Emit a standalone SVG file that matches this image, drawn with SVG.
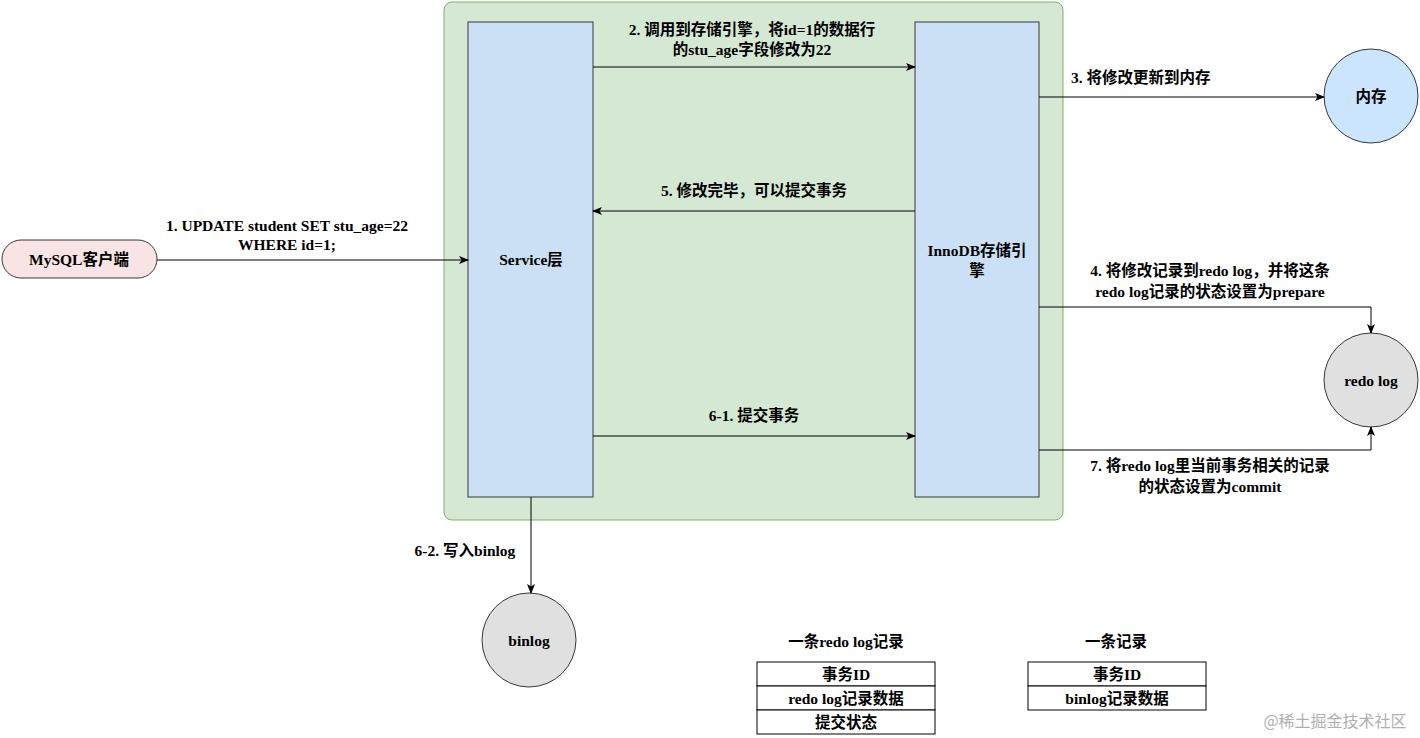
<svg xmlns="http://www.w3.org/2000/svg" width="1420" height="738" viewBox="0 0 1420 738">
<defs>
<marker id="a" markerWidth="10" markerHeight="8" refX="9" refY="4" orient="auto" markerUnits="userSpaceOnUse"><path d="M0,0 L10,4 L0,8 L2.5,4 Z" fill="#000"/></marker>
<style>
text{font-family:"Liberation Serif","Noto Sans CJK SC",serif;font-weight:bold;font-size:15.5px;fill:#000;text-anchor:middle;dominant-baseline:central}
.c{stroke:#000;stroke-width:1;fill:none;marker-end:url(#a)}
.box{fill:#cce0f5;stroke:#36393d}
.circ{stroke:#36393d;stroke-width:1}
.tb{fill:#fff;stroke:#000}
</style>
</defs>
<rect width="1420" height="738" fill="#fff"/>
<g id="container"><rect x="444" y="2" width="619" height="518" rx="8" fill="#d5e8d4" stroke="#82b366"/></g>
<g id="service"><rect class="box" x="468" y="22" width="125" height="475"/><text x="531" y="259">Service层</text></g>
<g id="innodb"><rect class="box" x="915" y="22" width="124" height="475"/><text x="977" y="250">InnoDB存储引</text><text x="977" y="270">擎</text></g>
<g id="client"><rect x="2" y="240" width="155" height="38" rx="19" fill="#f8e4e4" stroke="#36393d"/><text x="79" y="259">MySQL客户端</text></g>
<g id="mem"><circle class="circ" cx="1371" cy="96" r="47" fill="#cce5ff"/><text x="1371" y="96">内存</text></g>
<g id="redolog"><circle class="circ" cx="1371" cy="380" r="47" fill="#e0e0e0"/><text x="1371" y="380">redo log</text></g>
<g id="binlog"><circle class="circ" cx="529" cy="640" r="47" fill="#e0e0e0"/><text x="529" y="640">binlog</text></g>
<g id="connectors">
<path class="c" d="M157,260 H468"/>
<path class="c" d="M593,67 H915"/>
<path class="c" d="M1039,97 H1324"/>
<path class="c" d="M915,211 H593"/>
<path class="c" d="M1039,307 H1371 V333"/>
<path class="c" d="M593,436 H915"/>
<path class="c" d="M1039,450 H1371 V427"/>
<path class="c" d="M531,497 V593"/>
</g>
<g id="labels">
<text x="287" y="225">1. UPDATE student SET stu_age=22</text>
<text x="287" y="244">WHERE id=1;</text>
<text x="752" y="29">2. 调用到存储引擎，将id=1的数据行</text>
<text x="752" y="49">的stu_age字段修改为22</text>
<text x="1071" y="77" style="text-anchor:start">3. 将修改更新到内存</text>
<text x="754" y="190">5. 修改完毕，可以提交事务</text>
<text x="1210" y="270">4. 将修改记录到redo log，并将这条</text>
<text x="1210" y="291">redo log记录的状态设置为prepare</text>
<text x="754" y="415">6-1. 提交事务</text>
<text x="1210" y="465">7. 将redo log里当前事务相关的记录</text>
<text x="1210" y="486">的状态设置为commit</text>
<text x="465" y="550">6-2. 写入binlog</text>
</g>
<g id="table1">
<text x="846" y="641">一条redo log记录</text>
<rect class="tb" x="757" y="662" width="178" height="24"/><text x="846" y="674">事务ID</text>
<rect class="tb" x="757" y="686" width="178" height="24"/><text x="846" y="698">redo log记录数据</text>
<rect class="tb" x="757" y="710" width="178" height="24"/><text x="846" y="722">提交状态</text>
</g>
<g id="table2">
<text x="1116" y="641">一条记录</text>
<rect class="tb" x="1028" y="662" width="178" height="24"/><text x="1117" y="674">事务ID</text>
<rect class="tb" x="1028" y="686" width="178" height="24"/><text x="1117" y="698">binlog记录数据</text>
</g>
<text x="1335" y="720" style="font-family:'Noto Sans CJK SC',sans-serif;font-weight:normal;font-size:16px;fill:#b0b0b0">@稀土掘金技术社区</text>
</svg>
